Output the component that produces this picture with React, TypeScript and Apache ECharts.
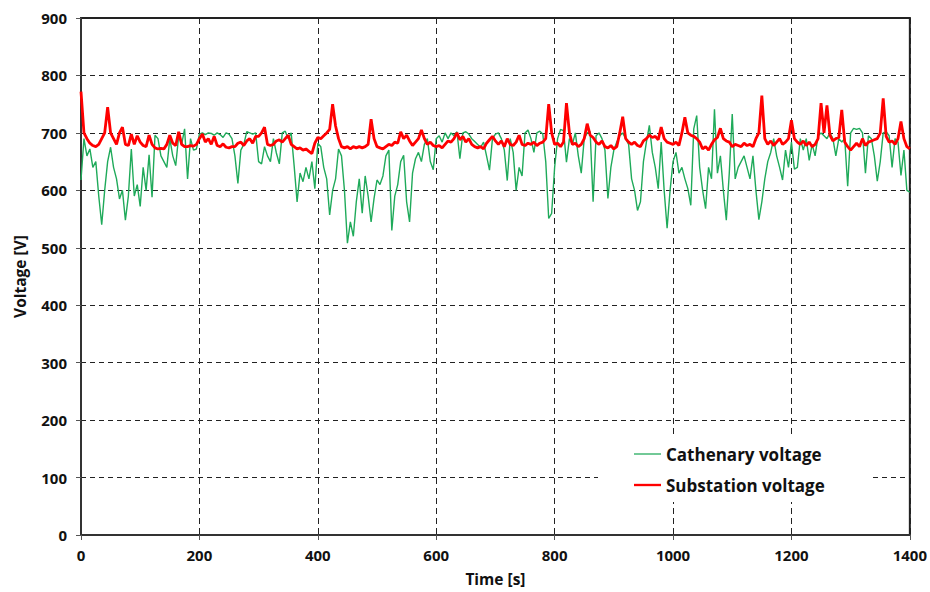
import React, { useEffect, useRef } from "react";
import * as echarts from "echarts";

const STEP_S = 5;

const substationVoltage: number[] = [
  772, 700, 690, 682, 678, 676, 680, 690, 700, 745,
  700, 690, 680, 700, 710, 680, 678, 698, 680, 695,
  684, 678, 676, 696, 680, 674, 672, 673, 672, 680,
  696, 682, 678, 702, 680, 676, 676, 678, 677, 680,
  690, 698, 684, 690, 680, 694, 678, 676, 681, 675,
  674, 676, 676, 682, 684, 678, 686, 690, 682, 694,
  694, 700, 710, 680, 678, 680, 686, 688, 684, 690,
  696, 680, 676, 672, 674, 670, 672, 668, 664, 682,
  692, 690, 695, 700, 706, 750, 712, 690, 676, 674,
  676, 672, 676, 674, 676, 674, 676, 680, 724, 690,
  676, 674, 672, 676, 680, 678, 684, 682, 702, 690,
  696, 686, 678, 684, 690, 705, 690, 680, 684, 678,
  676, 678, 674, 680, 686, 684, 690, 700, 688, 694,
  684, 690, 680, 676, 674, 676, 672, 682, 688, 694,
  686, 680, 686, 676, 690, 680, 678, 684, 696, 680,
  678, 682, 680, 684, 678, 682, 684, 690, 750, 700,
  680, 682, 676, 684, 752, 700, 680, 682, 676, 680,
  690, 716, 696, 692, 684, 680, 686, 676, 674, 678,
  672, 676, 700, 728, 690, 684, 680, 684, 678, 676,
  686, 690, 696, 692, 694, 688, 710, 690, 684, 682,
  680, 684, 678, 700, 727, 700, 696, 694, 690, 684,
  672, 676, 670, 680, 688, 692, 708, 690, 686, 684,
  676, 680, 678, 676, 682, 678, 680, 676, 690, 700,
  765, 690, 680, 686, 678, 684, 690, 680, 684, 690,
  722, 690, 684, 680, 686, 678, 684, 676, 680, 690,
  752, 700, 748, 696, 686, 690, 692, 740, 684, 676,
  670, 676, 682, 676, 690, 678, 684, 686, 688, 690,
  700, 760, 694, 684, 686, 680, 690, 720, 690, 676,
  672,
];

const cathenaryVoltage: number[] = [
  618, 690, 660, 672, 640, 650, 590, 540, 600, 650,
  675, 640, 620, 585, 600, 548, 590, 672, 590, 610,
  572, 640, 600, 662, 588, 696, 690, 660, 650, 640,
  690, 660, 643, 695, 680, 707, 620, 690, 670, 672,
  698, 700, 697, 700, 699, 696, 700, 697, 692, 700,
  698, 690, 660, 612, 670, 680, 702, 700, 698, 700,
  650, 646, 676, 660, 650, 690, 665, 646, 700, 703,
  690, 700, 643, 580, 630, 615, 640, 620, 650, 603,
  682, 676, 640, 620, 557, 600, 620, 672, 660, 600,
  508, 545, 520, 580, 620, 560, 625, 590, 545, 586,
  618, 610, 625, 660, 670, 530, 590, 610, 650, 661,
  580, 545, 630, 655, 666, 650, 680, 690, 650, 636,
  690, 695, 684, 700, 690, 700, 695, 702, 655, 700,
  702, 698, 690, 685, 680, 675, 684, 660, 635, 690,
  698, 700, 690, 670, 617, 690, 666, 600, 640, 625,
  700, 705, 690, 666, 700, 703, 698, 650, 551, 560,
  640, 690, 706, 704, 649, 690, 680, 700, 660, 630,
  690, 700, 702, 580, 695, 700, 690, 670, 586, 640,
  670, 684, 695, 700, 690, 680, 620, 600, 565, 580,
  650, 684, 713, 666, 640, 603, 684, 600, 534, 600,
  650, 666, 630, 640, 620, 603, 574, 707, 730, 640,
  600, 568, 640, 620, 741, 630, 660, 600, 548, 630,
  733, 620, 640, 650, 660, 640, 620, 660, 600, 549,
  580, 620, 650, 666, 690, 660, 640, 618, 670, 640,
  684, 637, 640, 690, 670, 690, 652, 680, 660, 695,
  700, 695, 690, 700, 690, 660, 690, 684, 690, 607,
  700, 708, 706, 708, 700, 630, 695, 690, 660, 616,
  650, 700, 702, 695, 640, 690, 684, 626, 670, 600,
  597,
];

const xTicks = { min: 0, max: 1400, interval: 200 };
const yTicks = { min: 0, max: 900, interval: 100 };

const seriesNames = ["Cathenary voltage", "Substation voltage"];

export default function App() {
  const ref = useRef<HTMLDivElement>(null);

  useEffect(() => {
    if (!ref.current) return;
    const chart = echarts.init(ref.current, undefined, { renderer: "svg" });
    const toPairs = (vals: number[]) => vals.map((v, i) => [i * STEP_S, v]);
    const labelFont = {
      fontFamily: "Open Sans",
      fontWeight: "bold" as const,
      fontSize: 15,
      color: "#111",
    };
    chart.setOption({
      animation: false,
      backgroundColor: "#ffffff",
      grid: {
        left: 81,
        right: 18,
        top: 18,
        bottom: 57,
        show: true,
        borderColor: "#222",
        borderWidth: 2,
        backgroundColor: "transparent",
      },
      legend: {
        orient: "vertical",
        left: 598,
        top: 437,
        padding: [8, 45, 8, 36],
        backgroundColor: "#ffffff",
        itemWidth: 27,
        itemHeight: 14,
        itemGap: 13,
        selectedMode: false,
        textStyle: {
          fontFamily: "Open Sans",
          fontWeight: "bold",
          fontSize: 17,
          color: "#111",
          lineHeight: 18,
        },
        data: [
          {
            name: seriesNames[0],
            icon: "path://M0 0H30V1.4H0Z",
            itemStyle: { color: "#1faa5a" },
          },
          {
            name: seriesNames[1],
            icon: "path://M0 0H30V2.6H0Z",
            itemStyle: { color: "#ff0000" },
          },
        ],
      },
      xAxis: {
        type: "value",
        min: xTicks.min,
        max: xTicks.max,
        interval: xTicks.interval,
        name: "Time [s]",
        nameLocation: "middle",
        nameGap: 36,
        nameTextStyle: { ...labelFont, fontSize: 15.5 },
        axisLine: { show: true, onZero: false, lineStyle: { color: "#333", width: 2 } },
        axisTick: { show: true, inside: false, length: 5, lineStyle: { color: "#555" } },
        axisLabel: { ...labelFont, margin: 12, formatter: (v: number) => String(v) },
        splitLine: {
          show: true,
          lineStyle: { color: "#222", type: [6, 4], width: 1 },
        },
      },
      yAxis: {
        type: "value",
        min: yTicks.min,
        max: yTicks.max,
        interval: yTicks.interval,
        name: "Voltage [V]",
        nameLocation: "middle",
        nameGap: 53,
        nameTextStyle: { ...labelFont, fontSize: 15.5 },
        axisLine: { show: true, lineStyle: { color: "#333", width: 2 } },
        axisTick: { show: true, inside: false, length: 5, lineStyle: { color: "#555" } },
        axisLabel: { ...labelFont, margin: 14, formatter: (v: number) => String(v) },
        splitLine: {
          show: true,
          lineStyle: { color: "#222", type: [5, 4], width: 1 },
        },
      },
      series: [
        {
          name: seriesNames[0],
          type: "line",
          data: toPairs(cathenaryVoltage),
          showSymbol: false,
          symbol: "none",
          lineStyle: { color: "#1faa5a", width: 1.4 },
          itemStyle: { color: "#1faa5a" },
          z: 2,
        },
        {
          name: seriesNames[1],
          type: "line",
          data: toPairs(substationVoltage),
          showSymbol: false,
          symbol: "none",
          lineStyle: { color: "#ff0000", width: 2.8 },
          itemStyle: { color: "#ff0000" },
          z: 3,
        },
      ],
    });
    return () => chart.dispose();
  }, []);

  return (
    <div
      ref={ref}
      style={{ position: "fixed", left: 0, top: 0, width: 930, height: 592 }}
    />
  );
}
